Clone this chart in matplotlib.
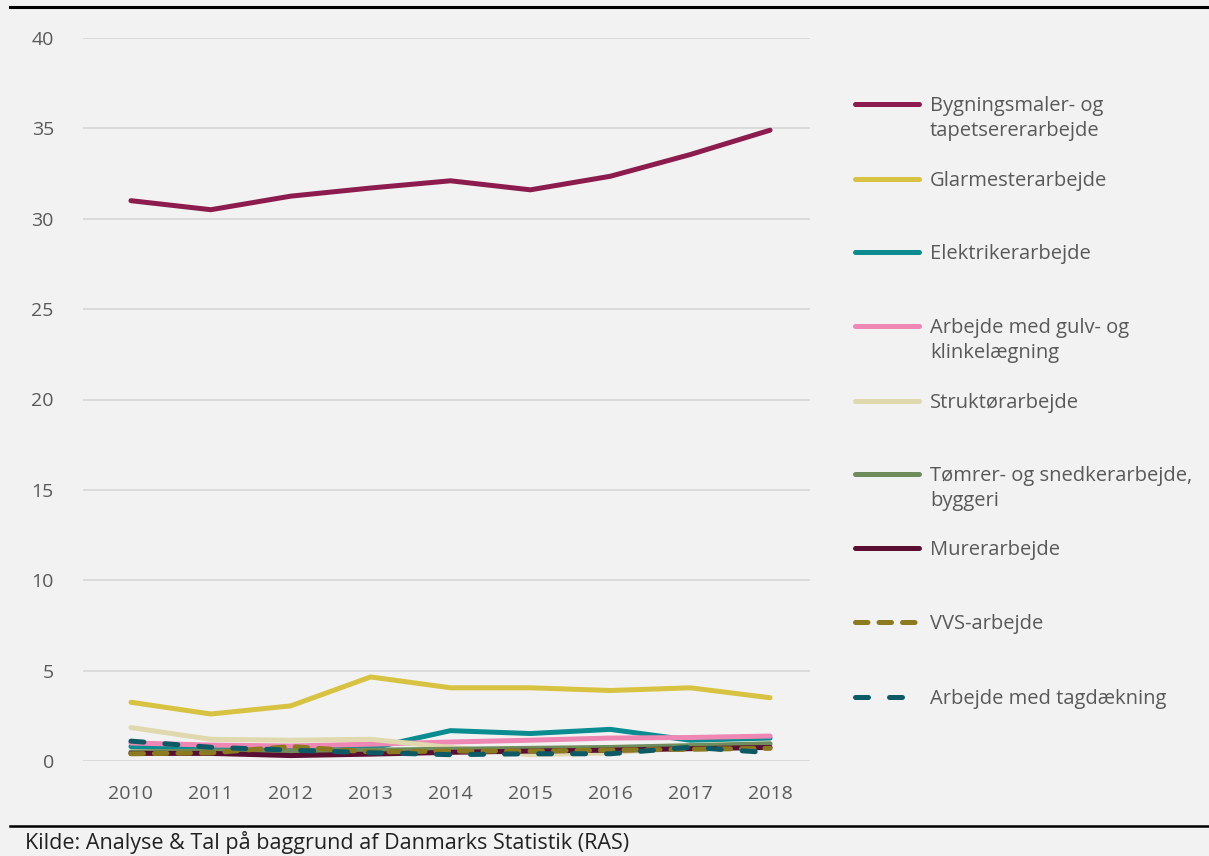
import matplotlib
matplotlib.use("Agg")
import matplotlib.pyplot as plt
from matplotlib.lines import Line2D

plt.rcParams['font.family'] = ['Open Sans', 'DejaVu Sans']

years = [2010, 2011, 2012, 2013, 2014, 2015, 2016, 2017, 2018]

bygningsmaler = [31.0, 30.5, 31.25, 31.7, 32.1, 31.6, 32.35, 33.55, 34.9]
glarmester = [3.25, 2.6, 3.05, 4.65, 4.05, 4.05, 3.9, 4.05, 3.5]
elektriker = [0.8, 0.75, 0.65, 0.7, 1.68, 1.52, 1.75, 1.15, 1.27]
gulv = [1.0, 0.88, 0.83, 0.93, 1.05, 1.15, 1.27, 1.3, 1.38]
struktoer = [1.85, 1.2, 1.15, 1.2, 0.75, 0.35, 0.45, 0.8, 0.95]
toemrer = [0.5, 0.55, 0.55, 0.6, 0.65, 0.7, 0.75, 0.85, 0.95]
murer = [0.42, 0.42, 0.3, 0.38, 0.48, 0.55, 0.6, 0.68, 0.75]
vvs = [0.4, 0.45, 0.8, 0.5, 0.55, 0.55, 0.6, 0.65, 0.7]
tag = [1.1, 0.76, 0.6, 0.46, 0.35, 0.4, 0.4, 0.76, 0.46]

labels = ["Bygningsmaler- og\ntapetsererarbejde", "Glarmesterarbejde", "Elektrikerarbejde",
          "Arbejde med gulv- og\nklinkelægning", "Struktørarbejde",
          "Tømrer- og snedkerarbejde,\nbyggeri", "Murerarbejde", "VVS-arbejde",
          "Arbejde med tagdækning"]
series = [bygningsmaler, glarmester, elektriker, gulv, struktoer, toemrer, murer, vvs, tag]
colors = ["#8C1C4E", "#D8C242", "#0A8C91", "#EE87B4", "#E0D8AE",
          "#6E8C5C", "#5A0F32", "#8C7A20", "#0D5A66"]
dashes = [None] * 7 + [(2.5, 2.2), (2.6, 4.2)]

bg = "#F2F2F2"
txt = "#595959"
fig = plt.figure(figsize=(12.09, 8.56), dpi=100, facecolor=bg)
W, H = 1209.0, 856.0
ax = fig.add_axes([83 / W, 1 - 761 / H, (810 - 83) / W, (761 - 38) / H])
ax.set_facecolor(bg)

lw = 3.6
for vals, c, d in zip(series, colors, dashes):
    if d is None:
        ax.plot(years, vals, color=c, lw=lw, solid_capstyle='round', solid_joinstyle='round')
    else:
        ax.plot(years, vals, color=c, lw=lw, dashes=d, dash_capstyle='round')

ax.set_ylim(0, 40)
ax.set_xlim(2009.4, 2018.5)
ax.set_yticks(range(0, 41, 5))
ax.set_xticks(years)
ax.grid(axis='y', color="#D9D9D9", lw=1.3)
ax.set_axisbelow(True)
for s in ax.spines.values():
    s.set_visible(False)
ax.tick_params(length=0, labelsize=14, labelcolor=txt)
ax.tick_params(axis='y', pad=21)
ax.tick_params(axis='x', pad=17)

# legend drawn by hand
ys = [104, 179, 252, 326, 401, 474, 548, 622, 697]
for y, lab, c, d in zip(ys, labels, colors, dashes):
    fy = 1 - y / H
    kw = dict(color=c, lw=lw, transform=fig.transFigure)
    if d is None:
        ln = Line2D([855 / W, 919 / W], [fy, fy], solid_capstyle='round', **kw)
    else:
        ln = Line2D([855 / W, 919 / W], [fy, fy], dashes=d, dash_capstyle='round', **kw)
    fig.add_artist(ln)
    fig.text(930 / W, (1 - (y - 8) / H), lab, fontsize=14.5, color=txt, va='top',
             ha='left', linespacing=1.32)

fig.add_artist(Line2D([10 / W, 1], [1 - 7 / H, 1 - 7 / H], color='black', lw=2.2,
                      transform=fig.transFigure))
fig.add_artist(Line2D([10 / W, 1], [1 - 826 / H, 1 - 826 / H], color='black', lw=1.8,
                      transform=fig.transFigure))
fig.text(25 / W, 1 - 843 / H, "Kilde: Analyse & Tal på baggrund af Danmarks Statistik (RAS)",
         fontsize=15.5, color="#222222", va='center', ha='left')

fig.savefig("out.png", dpi=100, facecolor=bg)
